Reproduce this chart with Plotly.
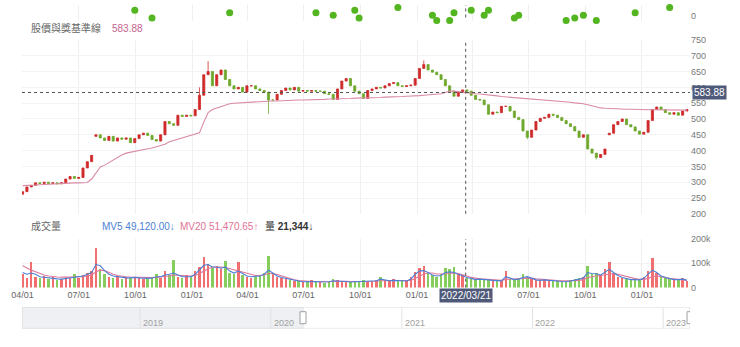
import plotly.graph_objects as go
import pandas as pd

W, H = 740, 347
FONT = "Liberation Sans, Noto Sans CJK TC, sans-serif"

# ---------------- data (weekly samples) ----------------
week_dates = pd.date_range('2020-04-01', periods=155, freq='7D')

closes = [
    270, 285, 290, 298, 296, 300, 296, 298, 295, 298,
    310, 318, 312, 315, 345, 365, 385, 450, 440, 432,
    445, 430, 440, 436, 440, 425, 438, 450, 455, 448,
    435, 430, 450, 492, 485, 480, 512, 508, 512, 510,
    530, 575, 640, 650, 605, 640, 655, 625, 605, 595,
    600, 585, 605, 605, 595, 590, 585, 560, 560, 578,
    590, 598, 592, 600, 588, 590, 588, 590, 588, 588,
    580, 578, 562, 595, 620, 628, 605, 588, 580, 565,
    590, 595, 600, 598, 605, 612, 615, 605, 603, 605,
    607, 628, 660, 672, 655, 648, 640, 625, 605, 588,
    572, 585, 592, 588, 575, 562, 560, 545, 515, 522,
    520, 540, 540, 525, 505, 498, 462, 442, 465, 492,
    502, 505, 515, 512, 505, 495, 485, 476, 462, 442,
    450, 405, 392, 378, 388, 405, 455, 482, 492, 500,
    482, 475, 462, 452, 458, 495, 530, 538, 530, 520,
    515, 520, 512, 525, 530,
]
first_open = 262
gap_opens = {17: 445, 136: 450}
wick_high = {43: 683, 93: 685, 41: 600, 107: 560}
wick_low = {57: 516, 133: 372, 117: 436}

base_line = [
    289, 289, 290, 291, 292, 293, 294, 295, 296, 297,
    297, 298, 298, 298, 298, 299, 310, 330, 348, 354,
    362, 372, 380, 386, 392, 395, 398, 402, 404, 406,
    408, 412, 415, 420, 428, 432, 438, 442, 445, 448,
    452, 456, 490, 520, 530, 535, 540, 544, 548, 550,
    551, 552, 553, 554, 555, 555, 556, 556, 557, 557,
    558, 558, 559, 559, 560, 560, 560, 561, 561, 562,
    562, 563, 563, 564, 564, 565, 565, 566, 566, 566,
    567, 567, 568, 568, 569, 569, 570, 570, 571, 572,
    572, 573, 574, 575, 576, 577, 578, 580, 584, 588,
    588, 586, 584, 583, 582, 580, 579, 578, 577, 575,
    573, 571, 570, 569, 568, 566, 565, 564, 563, 562,
    560, 559, 558, 557, 556, 555, 554, 553, 551, 550,
    548, 545, 541, 538, 535, 534, 533, 532, 532, 531,
    531, 531, 530, 530, 530, 529, 529, 529, 528, 528,
    528, 528, 528, 528, 528,
]

volume_k = [
    55, 40, 105, 45, 38, 48, 35, 42, 30, 35,
    45, 38, 55, 40, 50, 60, 70, 165, 75, 55,
    45, 40, 48, 35, 42, 38, 45, 40, 35, 38,
    42, 55, 40, 70, 50, 115, 45, 40, 50, 45,
    70, 85, 125, 95, 80, 90, 75, 110, 60, 55,
    105, 50, 45, 40, 45, 50, 60, 130, 55, 45,
    40, 35, 30, 25, 28, 22, 25, 30, 25, 22,
    20, 25, 35, 30, 28, 25, 22, 25, 22, 30,
    25, 28, 30, 45, 30, 25, 35, 28, 30, 25,
    45, 65, 80, 90, 60, 50, 45, 55, 80, 75,
    85, 55, 50, 40, 35, 30, 40, 35, 30, 28,
    25, 30, 70, 35, 30, 40, 55, 45, 35, 30,
    28, 35, 30, 25, 28, 25, 22, 30, 35, 40,
    45, 90, 55, 60, 50, 75, 105, 60, 45, 40,
    35, 30, 35, 30, 45, 70, 120, 60, 45, 40,
    35, 30, 35, 40, 25,
]
mv5_k = [
    62, 55, 60, 55, 45, 42, 40, 38, 36, 35,
    38, 40, 44, 45, 48, 55, 62, 95, 90, 70,
    55, 48, 45, 42, 40, 40, 42, 40, 38, 38,
    40, 45, 45, 52, 55, 60, 52, 45, 45, 45,
    55, 72, 92, 95, 85, 85, 80, 85, 68, 60,
    68, 58, 48, 45, 45, 48, 55, 72, 60, 48,
    42, 38, 32, 28, 27, 24, 24, 27, 25, 23,
    22, 24, 28, 28, 27, 25, 23, 24, 23, 26,
    25, 27, 28, 35, 30, 28, 30, 28, 28, 27,
    35, 55, 68, 70, 62, 52, 48, 50, 62, 65,
    62, 55, 50, 42, 38, 33, 35, 35, 32, 30,
    28, 28, 45, 40, 33, 35, 42, 45, 38, 32,
    30, 32, 30, 27, 27, 25, 24, 27, 30, 35,
    40, 62, 58, 57, 52, 62, 75, 62, 50, 42,
    38, 33, 33, 32, 38, 55, 72, 62, 48, 42,
    38, 33, 33, 35, 30,
]
mv20_k = [
    90, 80, 72, 65, 58, 52, 48, 45, 44, 43,
    43, 42, 42, 43, 45, 48, 52, 65, 72, 70,
    62, 55, 50, 46, 45, 44, 43, 42, 42, 41,
    41, 42, 43, 45, 48, 52, 52, 50, 49, 48,
    50, 58, 68, 78, 84, 86, 85, 83, 78, 72,
    68, 64, 58, 52, 50, 50, 52, 58, 58, 54,
    48, 42, 36, 32, 29, 27, 26, 25, 25, 24,
    24, 24, 25, 26, 26, 26, 25, 25, 24, 25,
    25, 25, 26, 28, 29, 29, 29, 29, 29, 28,
    30, 38, 48, 56, 60, 60, 56, 55, 57, 58,
    60, 58, 54, 48, 42, 38, 36, 35, 34, 32,
    31, 30, 34, 35, 35, 36, 38, 40, 39, 36,
    34, 32, 31, 30, 29, 28, 27, 27, 28, 30,
    33, 42, 46, 48, 50, 53, 58, 58, 55, 50,
    45, 40, 37, 34, 34, 38, 45, 48, 46, 42,
    38, 35, 33, 32, 30,
]

# upper (cropped) indicator panel dots
top_idx = [26, 30, 48, 68, 72, 77, 78, 87, 95, 96, 99, 100, 104, 107, 108, 114, 115, 126, 128, 130, 133, 142, 150]
top_vals = [2, -1, 1, 1, 0, 2, -1, 3, 0, -2, -2, 1, 2, 0, 2, -1, 0, -2, -1, 0, -2, 1, 3]

tick_dates = ['2020-04-01', '2020-07-01', '2020-10-01', '2021-01-01', '2021-04-01', '2021-07-01',
              '2021-10-01', '2022-01-01', '2022-04-01', '2022-07-01', '2022-10-01', '2023-01-01']
tick_text = ['04/01', '07/01', '10/01', '01/01', '04/01', '07/01',
             '10/01', '01/01', '', '07/01', '10/01', '01/01']
price_ticks = [200, 250, 300, 350, 400, 450, 500, 550, 600, 650, 700, 750]
nav_years = ['2019-01-01', '2020-01-01', '2021-01-01', '2022-01-01', '2023-01-01']
nav_labels = ['2019', '2020', '2021', '2022', '2023']

cross_date = '2022-03-21'
cross_value = 583.88
title_text = '股價與獎基準線'
mv5_text, mv20_text, vol_text = '49,120.00', '51,470.65', '21,344'

main_range = ['2020-03-31', '2023-03-20']
nav_range = ['2018-02-05', '2023-03-17']
window_start = '2020-03-31'

# ---------------- derived OHLC ----------------
opens = [first_open] + closes[:-1]
for k, v in gap_opens.items():
    opens[k] = v
highs = [max(o, c) for o, c in zip(opens, closes)]
lows = [min(o, c) for o, c in zip(opens, closes)]
for k, v in wick_high.items():
    highs[k] = v
for k, v in wick_low.items():
    lows[k] = v

RED = '#cf2b2b'
GREEN = '#6ea82c'
vol_colors = ['rgba(238,86,86,0.85)' if c >= o else 'rgba(112,196,64,0.85)' for o, c in zip(opens, closes)]

# ---------------- geometry (pixels -> paper) ----------------
def py(p):
    return 1 - p / H

L, R = 22, 690
def px(p):
    return (p - L) / (R - L)

fig = go.Figure()

fig.add_trace(go.Candlestick(
    x=week_dates, open=opens, high=highs, low=lows, close=closes,
    increasing=dict(line=dict(color=RED, width=0.8), fillcolor=RED),
    decreasing=dict(line=dict(color=GREEN, width=0.8), fillcolor=GREEN),
    whiskerwidth=0, xaxis='x', yaxis='y', showlegend=False, hoverinfo='skip'))
fig.add_trace(go.Scatter(x=week_dates, y=base_line, mode='lines',
                         line=dict(color='#d98aa6', width=1.1), xaxis='x', yaxis='y',
                         showlegend=False, hoverinfo='skip'))

fig.add_trace(go.Bar(x=week_dates, y=[v * 1000 for v in volume_k], marker_color=vol_colors,
                     marker_line_width=0, width=4 * 86400000, xaxis='x2', yaxis='y2',
                     showlegend=False, hoverinfo='skip'))
fig.add_trace(go.Scatter(x=week_dates, y=[v * 1000 for v in mv20_k], mode='lines',
                         line=dict(color='#e0789a', width=1.1), xaxis='x2', yaxis='y2',
                         showlegend=False, hoverinfo='skip'))
fig.add_trace(go.Scatter(x=week_dates, y=[v * 1000 for v in mv5_k], mode='lines',
                         line=dict(color='#4d7fd6', width=1.1), xaxis='x2', yaxis='y2',
                         showlegend=False, hoverinfo='skip'))

fig.add_trace(go.Scatter(x=[week_dates[i] for i in top_idx], y=top_vals, mode='markers',
                         marker=dict(color='#53b51f', size=7), xaxis='x3', yaxis='y3',
                         showlegend=False, hoverinfo='skip', cliponaxis=False))

# invisible anchor for navigator axis
fig.add_trace(go.Scatter(x=nav_range, y=[0.5, 0.5], mode='lines', line=dict(width=0),
                         xaxis='x4', yaxis='y4', showlegend=False, hoverinfo='skip'))

grid = '#efefef'
tickfont = dict(size=9, color='#777', family=FONT)
xcommon = dict(type='date', range=main_range, tickvals=tick_dates, showgrid=True, gridcolor=grid,
               gridwidth=1, zeroline=False, showline=False, ticks='', fixedrange=True)

fig.update_layout(
    width=W, height=H, margin=dict(l=L, r=W - R, t=0, b=0),
    paper_bgcolor='white', plot_bgcolor='white', font=dict(family=FONT, size=9, color='#666'),
    xaxis=dict(**xcommon, showticklabels=False, rangeslider=dict(visible=False), anchor='y'),
    yaxis=dict(domain=[py(215), py(36)], range=[200, 750], side='right', tickvals=price_ticks,
               tickfont=tickfont, showgrid=True, gridcolor='#f3f3f3', zeroline=False, anchor='x', ticks=''),
    xaxis2=dict(**xcommon, ticktext=tick_text, showticklabels=True, tickfont=dict(size=9, color='#666', family=FONT),
                anchor='y2'),
    yaxis2=dict(domain=[py(291), py(241)], range=[0, 200000], side='right', tickvals=[0, 100000, 200000],
                ticktext=['0', '100k', '200k'], tickfont=tickfont, showgrid=True, gridcolor='#f1f1f1',
                zeroline=False, anchor='x2', ticks=''),
    xaxis3=dict(**xcommon, showticklabels=False, anchor='y3'),
    yaxis3=dict(domain=[py(16), 1], range=[-2, 4], side='right', tickvals=[0], ticktext=['0'],
                tickfont=tickfont, showgrid=False, zeroline=False, anchor='x3', ticks=''),
    xaxis4=dict(type='date', range=nav_range, showticklabels=False, showgrid=False, zeroline=False,
                anchor='y4', fixedrange=True),
    yaxis4=dict(domain=[py(333), py(311)], range=[0, 1], visible=False, anchor='x4'),
    bargap=0,
)

shapes = []
dash = dict(color='#555', width=1, dash='3px,3px')
shapes.append(dict(type='line', xref='x domain', x0=0, x1=1, yref='y', y0=cross_value, y1=cross_value, line=dash))
shapes.append(dict(type='line', xref='x', x0=cross_date, x1=cross_date, yref='y domain', y0=0, y1=1, line=dash))
shapes.append(dict(type='line', xref='x2', x0=cross_date, x1=cross_date, yref='y2 domain', y0=0, y1=1, line=dash))
shapes.append(dict(type='line', xref='x3', x0=cross_date, x1=cross_date, yref='y3 domain', y0=0.2, y1=1, line=dash))
# navigator
shapes.append(dict(type='rect', xref='x4', x0=nav_range[0], x1=window_start, yref='y4', y0=0, y1=1,
                   fillcolor='#eef0f3', line=dict(width=1, color='#dcdfe4'), layer='below'))
shapes.append(dict(type='rect', xref='x4', x0=nav_range[0], x1=nav_range[1], yref='y4', y0=0, y1=1,
                   fillcolor='rgba(0,0,0,0)', line=dict(width=1, color='#dddddd')))
for yd in nav_years:
    shapes.append(dict(type='line', xref='x4', x0=yd, x1=yd, yref='y4', y0=0, y1=1,
                       line=dict(color='#e2e2e2', width=1)))
for hx in [window_start, nav_range[1]]:
    shapes.append(dict(type='rect', xref='x4', xsizemode='pixel', xanchor=hx, x0=-3, x1=3,
                       yref='y4', ysizemode='pixel', yanchor=0.5, y0=-6, y1=6,
                       fillcolor='white', line=dict(color='#a0a0a0', width=1)))
fig.update_layout(shapes=shapes)

ann = []
ann.append(dict(text=title_text, xref='paper', x=px(29), yref='paper', y=py(24), xanchor='left', yanchor='middle',
                showarrow=False, font=dict(size=10, color='#666')))
ann.append(dict(text=f'{cross_value:.2f}', xref='paper', x=px(110), yref='paper', y=py(24), xanchor='left',
                yanchor='middle', showarrow=False, font=dict(size=10, color='#c4658f')))
ann.append(dict(text='成交量', xref='paper', x=px(29), yref='paper', y=py(228), xanchor='left', yanchor='middle',
                showarrow=False, font=dict(size=10, color='#666')))
ann.append(dict(text=f'MV5 {mv5_text}↓', xref='paper', x=px(100), yref='paper', y=py(228), xanchor='left',
                yanchor='middle', showarrow=False, font=dict(size=10, color='#4d7fd6')))
ann.append(dict(text=f'MV20 {mv20_text}↑', xref='paper', x=px(178), yref='paper', y=py(228), xanchor='left',
                yanchor='middle', showarrow=False, font=dict(size=10, color='#de7396')))
ann.append(dict(text=f'量 <b>{vol_text}</b>↓', xref='paper', x=px(263), yref='paper', y=py(228), xanchor='left',
                yanchor='middle', showarrow=False, font=dict(size=10, color='#333')))
ann.append(dict(text=f'{cross_value:.2f}', xref='paper', x=1.003, yref='y', y=cross_value, xanchor='left',
                yanchor='middle', showarrow=False, bgcolor='#4f5a7a', borderpad=1,
                font=dict(size=10, color='white')))
ann.append(dict(text=cross_date.replace('-', '/'), xref='x2', x=cross_date, yref='paper', y=py(299),
                xanchor='center', yanchor='middle', showarrow=False, bgcolor='#4f5a7a', borderpad=1,
                font=dict(size=10, color='white')))
for yd, lab in zip(nav_years, nav_labels):
    ann.append(dict(text=lab, xref='x4', x=yd, xanchor='left', xshift=1, yref='paper', y=py(327),
                    yanchor='middle', showarrow=False, font=dict(size=9, color='#a0a0a0')))
fig.update_layout(annotations=ann)

fig.write_html('out.html')
